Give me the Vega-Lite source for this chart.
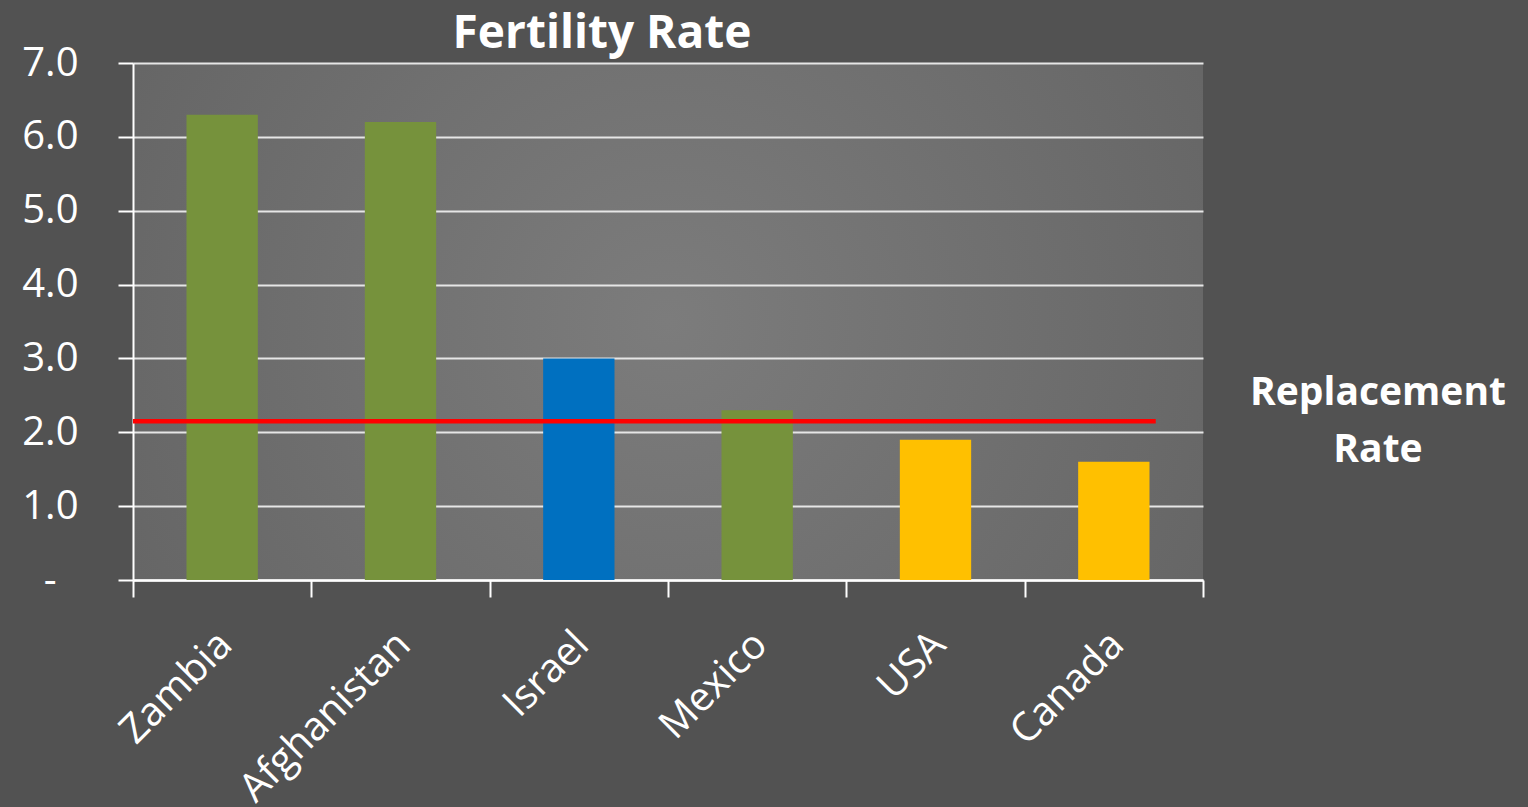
{
  "$schema": "https://vega.github.io/schema/vega-lite/v6.json",
  "width": 1070,
  "height": 517,
  "autosize": {"type": "none"},
  "padding": {"left": 133, "top": 63, "right": 325, "bottom": 227},
  "background": "#525252",
  "config": {
    "font": "Open Sans",
    "view": {
      "stroke": null,
      "fill": {
        "gradient": "radial",
        "x1": 0.5, "y1": 0.5, "r1": 0,
        "x2": 0.5, "y2": 0.5, "r2": 0.75,
        "stops": [
          {"offset": 0, "color": "#7c7c7c"},
          {"offset": 1, "color": "#5e5e5e"}
        ]
      }
    }
  },
  "title": {
    "text": "Fertility Rate",
    "font": "Open Sans",
    "fontSize": 46,
    "fontWeight": "bold",
    "color": "white",
    "anchor": "middle",
    "dx": -66,
    "dy": 21,
    "offset": 6
  },
  "datasets": {
    "countries": [
      {"country": "Zambia", "rate": 6.3, "group": "high"},
      {"country": "Afghanistan", "rate": 6.2, "group": "high"},
      {"country": "Israel", "rate": 3.0, "group": "israel"},
      {"country": "Mexico", "rate": 2.3, "group": "high"},
      {"country": "USA", "rate": 1.9, "group": "low"},
      {"country": "Canada", "rate": 1.6, "group": "low"}
    ],
    "replacement": [
      {"from": "Zambia", "to": "Canada", "rate": 2.15, "label": "Replacement\nRate"}
    ]
  },
  "layer": [
    {
      "data": {"name": "countries"},
      "mark": {"type": "bar", "width": {"band": 0.4}},
      "encoding": {
        "x": {
          "field": "country",
          "type": "nominal",
          "sort": ["Zambia", "Afghanistan", "Israel", "Mexico", "USA", "Canada"],
          "scale": {"domain": ["Zambia", "Afghanistan", "Israel", "Mexico", "USA", "Canada"], "paddingInner": 0, "paddingOuter": 0},
          "axis": {
            "title": null,
            "domain": true,
            "domainColor": "white",
            "domainWidth": 2.5,
            "ticks": true,
            "tickColor": "white",
            "tickWidth": 2,
            "tickSize": 17,
            "tickBand": "extent",
            "grid": false,
            "labelAngle": -45,
            "labelFont": "Open Sans",
            "labelFontSize": 40,
            "labelColor": "white",
            "labelPadding": 27,
            "labelOffset": -11,
            "labelLimit": 0
          }
        },
        "y": {
          "field": "rate",
          "type": "quantitative",
          "scale": {"domain": [0, 7], "nice": false},
          "axis": {
            "title": null,
            "values": [0, 1, 2, 3, 4, 5, 6, 7],
            "labelExpr": "datum.value == 0 ? '-' : format(datum.value, '.1f')",
            "domain": true,
            "domainColor": "white",
            "domainWidth": 2,
            "ticks": true,
            "tickColor": "white",
            "tickWidth": 2,
            "tickSize": 15,
            "grid": true,
            "gridColor": "#e6e6e6",
            "gridWidth": 2,
            "labelFont": "Open Sans",
            "labelFontSize": 40,
            "labelColor": "white",
            "labelPadding": {"condition": {"test": "datum.value == 0", "value": 62}, "value": 40}
          }
        },
        "color": {
          "field": "group",
          "type": "nominal",
          "scale": {"domain": ["high", "israel", "low"], "range": ["#76923c", "#0070c0", "#ffc000"]},
          "legend": null
        }
      }
    },
    {
      "data": {"name": "replacement"},
      "mark": {"type": "rule", "color": "#ff0000", "strokeWidth": 4.5},
      "encoding": {
        "x": {"field": "from", "type": "nominal", "bandPosition": 0},
        "x2": {"field": "to", "bandPosition": 0.735},
        "y": {"field": "rate", "type": "quantitative"}
      }
    },
    {
      "data": {"name": "replacement"},
      "mark": {
        "type": "text",
        "font": "Open Sans",
        "fontSize": 39,
        "fontWeight": "bold",
        "color": "white",
        "align": "center",
        "baseline": "middle",
        "lineBreak": "\n",
        "lineHeight": 57,
        "dx": 175,
        "dy": -28
      },
      "encoding": {
        "x": {"field": "to", "type": "nominal", "bandPosition": 1},
        "y": {"field": "rate", "type": "quantitative"},
        "text": {"field": "label"}
      }
    }
  ]
}
